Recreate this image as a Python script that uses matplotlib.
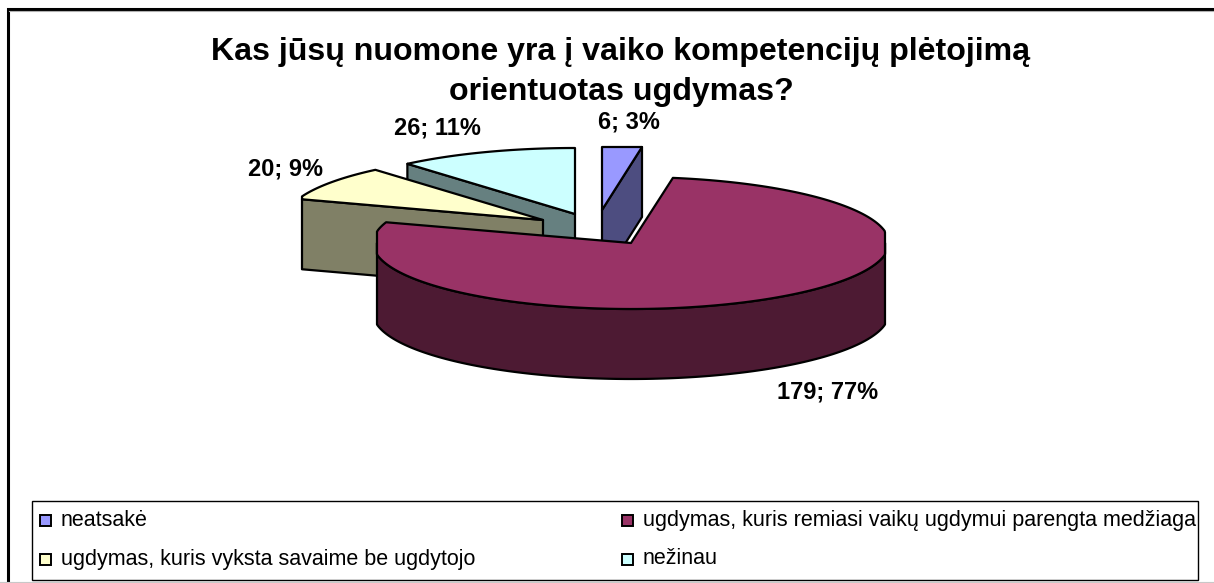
import numpy as np
import matplotlib
matplotlib.use("Agg")
import matplotlib.pyplot as plt
from matplotlib.patches import Rectangle

TITLE = "Kas jūsų nuomone yra į vaiko kompetencijų plėtojimą\norientuotas ugdymas?"
CATEGORIES = ["neatsakė", "ugdymas, kuris remiasi vaikų ugdymui parengta medžiaga",
              "ugdymas, kuris vyksta savaime be ugdytojo", "nežinau"]
VALUES = [6, 179, 20, 26]
DATA_LABELS = ["6; 3%", "179; 77%", "20; 9%", "26; 11%"]

COLORS = ["#9999FF", "#993366", "#FFFFCC", "#CCFFFF"]
DARK = ["#4D4D80", "#4D1A33", "#808066", "#668080"]
APEX = [(602, 210), (631, 243), (543, 220), (575, 214)]  # exploded slice tips, px
CLIP_X = [(0, 642), (377, 885), (302, 1214), (0, 1214)]  # plot area cuts the slices off
LABEL_POS = [(629, 122), (828, 392), (286, 169), (437, 128)]

RX = 258  # ellipse half width
RY = 66
DEPTH = 70
CLIP_TOP = 147

plt.rcParams["font.family"] = ["Liberation Sans", "DejaVu Sans"]

fig = plt.figure(figsize=(12.14, 5.83), dpi=100)
ax = fig.add_axes([0, 0, 1, 1])
ax.set_xlim(0, 1214)
ax.set_ylim(583, 0)
ax.axis("off")


def rim(i, a0, a1):
    # points on the outer edge, angles clockwise from the top
    t = np.radians(np.linspace(a0, a1, 200))
    x = np.clip(APEX[i][0] + RX * np.sin(t), CLIP_X[i][0], CLIP_X[i][1])
    y = np.maximum(APEX[i][1] - RY * np.cos(t), CLIP_TOP)
    return x, y


def poly(x, y, color, z):
    ax.fill(x, y, facecolor=color, edgecolor="black", linewidth=1.6, zorder=z, joinstyle="round")


edges = np.concatenate([[0], np.cumsum(VALUES)]) * 360.0 / sum(VALUES)

# cyan slice, side wall then top
i = 3
x, y = rim(i, edges[i], edges[i + 1])
tip = APEX[i]
poly([x[0], tip[0], tip[0], x[0]], [y[0], tip[1], tip[1] + DEPTH, y[0] + DEPTH], DARK[i], 1)
poly([tip[0], *x], [tip[1], *y], COLORS[i], 2)

# yellow slice
i = 2
x, y = rim(i, edges[i], edges[i + 1])
tip = APEX[i]
poly([x[0], tip[0], tip[0], x[0]], [y[0], tip[1], tip[1] + DEPTH, y[0] + DEPTH], DARK[i], 3)
poly([tip[0], *x], [tip[1], *y], COLORS[i], 4)

# blue slice
i = 0
x, y = rim(i, edges[i], edges[i + 1])
tip = APEX[i]
poly([x[-1], tip[0], tip[0], x[-1]], [y[-1], tip[1], tip[1] + DEPTH, y[-1] + DEPTH], DARK[i], 5)
poly([tip[0], *x], [tip[1], *y], COLORS[i], 6)

# big slice
i = 1
tip = APEX[i]
fx, fy = rim(i, 90, 270)
poly([*fx, *fx[::-1]], [*fy, *(fy[::-1] + DEPTH)], DARK[i], 7)
x, y = rim(i, edges[i], edges[i + 1])
poly([tip[0], *x], [tip[1], *y], COLORS[i], 8)

ax.text(621, 72, TITLE, ha="center", va="center", fontsize=23.1, fontweight="bold",
        linespacing=1.45, zorder=10)

for label, pos in zip(DATA_LABELS, LABEL_POS):
    ax.text(pos[0], pos[1], label, ha="center", va="center", fontsize=17, fontweight="bold", zorder=10)

# chart frame runs off the right and bottom of the picture
ax.plot([7.5, 7.5, 1214], [583, 9, 9], color="black", linewidth=2.2, solid_joinstyle="miter", zorder=0)
ax.plot([9, 1214], [11, 11], color="#b0b0b0", linewidth=0.8, zorder=0)
ax.plot([0, 1214], [581.5, 581.5], color="#c8c8c8", linewidth=0.8, zorder=0)

ax.add_patch(Rectangle((32, 500.5), 1165.5, 79.5, fill=False, edgecolor="black", linewidth=1, zorder=9))
legend_pos = [(45.5, 520.5), (627.5, 520.5), (45.5, 559), (627.5, 559)]
text_x = [61, 643, 61, 643]
for i, pos in enumerate(legend_pos):
    ax.add_patch(Rectangle((pos[0] - 5.5, pos[1] - 5.5), 11, 11, facecolor=COLORS[i],
                           edgecolor="black", linewidth=1.4, zorder=10))
    ax.text(text_x[i], pos[1], CATEGORIES[i], ha="left", va="center", fontsize=15.5, zorder=10)

fig.savefig("out.png", dpi=100)
